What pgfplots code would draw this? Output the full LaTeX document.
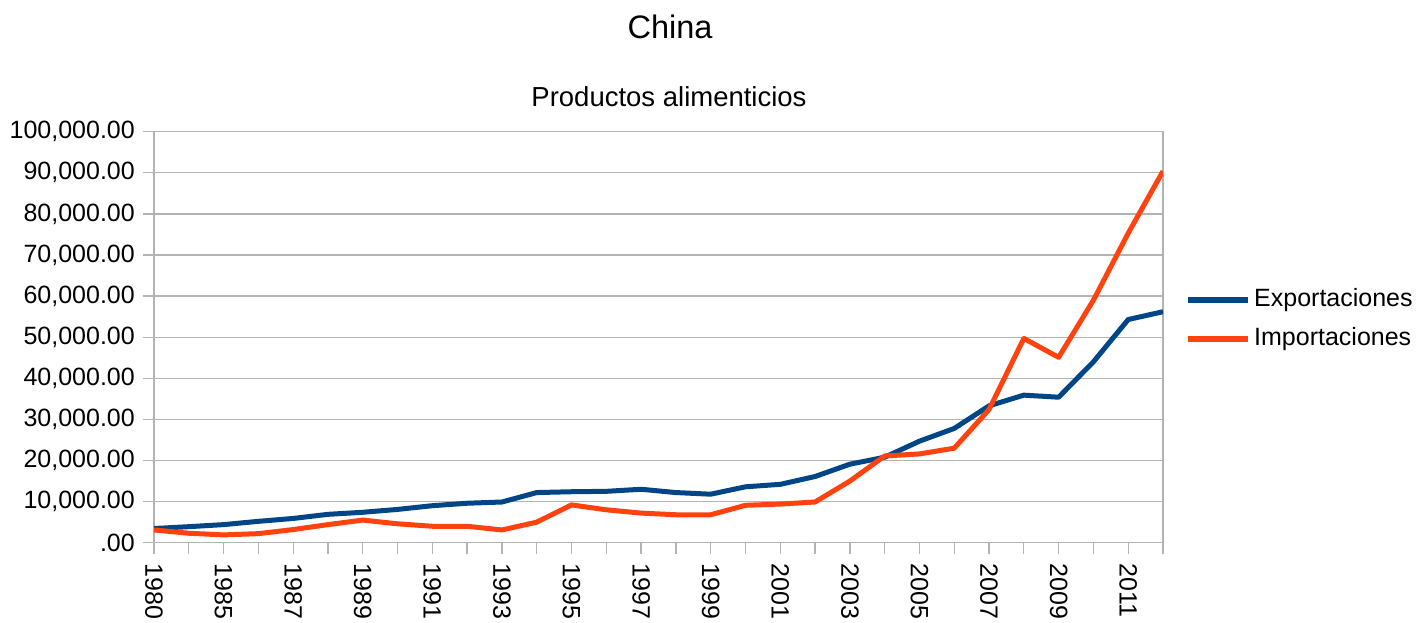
\documentclass[border=0pt]{standalone}
\usepackage{pgfplots}
\pgfplotsset{compat=1.18}
\usepackage{fontspec}
\setmainfont{Liberation Sans}
\definecolor{lobl}{HTML}{004586}
\definecolor{loor}{HTML}{FF420E}
\definecolor{grd}{HTML}{B3B3B3}
\begin{document}
\begin{tikzpicture}
\useasboundingbox (0pt,0pt) rectangle (1428pt,622pt);
\node[font=\fontsize{32.5}{39}\selectfont, inner sep=0pt] at (670pt,595pt) {China};
\node[font=\fontsize{27.5}{33}\selectfont, inner sep=0pt] at (669pt,525pt) {Productos alimenticios};
\begin{axis}[
  at={(154pt,79.3pt)}, anchor=south west,
  scale only axis, width=1009pt, height=411pt,
  xmin=0, xmax=29, ymin=0, ymax=100000,
  scaled y ticks=false,
  xtick={0,...,29},
  xticklabels={1980,,1985,,1987,,1989,,1991,,1993,,1995,,1997,,1999,,2001,,2003,,2005,,2007,,2009,,2011,},
  ytick={0,10000,...,100000},
  yticklabels={.00,{10,000.00},{20,000.00},{30,000.00},{40,000.00},{50,000.00},{60,000.00},{70,000.00},{80,000.00},{90,000.00},{100,000.00}},
  tick label style={font=\fontsize{25}{30}\selectfont, text=black},
  xticklabel style={rotate=-90, anchor=west, inner sep=0pt},
  xticklabel shift=10pt,
  yticklabel style={inner sep=0pt, xshift=-8pt},
  tick align=outside, major tick length=11pt,
  xtick pos=bottom, ytick pos=left,
  tick style={grd, line width=1.3pt},
  axis line style={grd, line width=1.3pt},
  ymajorgrids, major grid style={grd, line width=1.3pt},
  legend style={at={(1.0218,0.543)}, anchor=west, draw=none, fill=none, inner sep=0pt,
    font=\fontsize{25}{30}\selectfont, row sep=14pt,
    nodes={inner sep=0pt, anchor=west, text height=19pt, text depth=6pt}},
  legend cell align=left,
  legend image code/.code={\draw[#1, line width=6pt] (0pt,0pt) -- (60pt,0pt); \path[draw=none, fill=none] (0pt,0pt) -- (66pt,0pt);},
  every axis plot/.append style={line width=5pt, line join=round, mark=none},
]
\addplot[lobl] coordinates {
(0,3450) (1,3900) (2,4400) (3,5200) (4,5900) (5,6900) (6,7400) (7,8100) (8,9000) (9,9600)
(10,9900) (11,12200) (12,12400) (13,12500) (14,13000) (15,12200) (16,11800) (17,13600) (18,14200) (19,16100)
(20,19100) (21,20800) (22,24700) (23,27800) (24,33300) (25,35900) (26,35400) (27,44000) (28,54300) (29,56200)
};
\addlegendentry{Exportaciones}
\addplot[loor] coordinates {
(0,3100) (1,2300) (2,1900) (3,2200) (4,3200) (5,4400) (6,5500) (7,4600) (8,4000) (9,4000)
(10,3100) (11,5000) (12,9200) (13,8000) (14,7200) (15,6800) (16,6800) (17,9100) (18,9400) (19,9900)
(20,15000) (21,21100) (22,21600) (23,23000) (24,32400) (25,49700) (26,45100) (27,59000) (28,75300) (29,90400)
};
\addlegendentry{Importaciones}
\end{axis}
\end{tikzpicture}
\end{document}
